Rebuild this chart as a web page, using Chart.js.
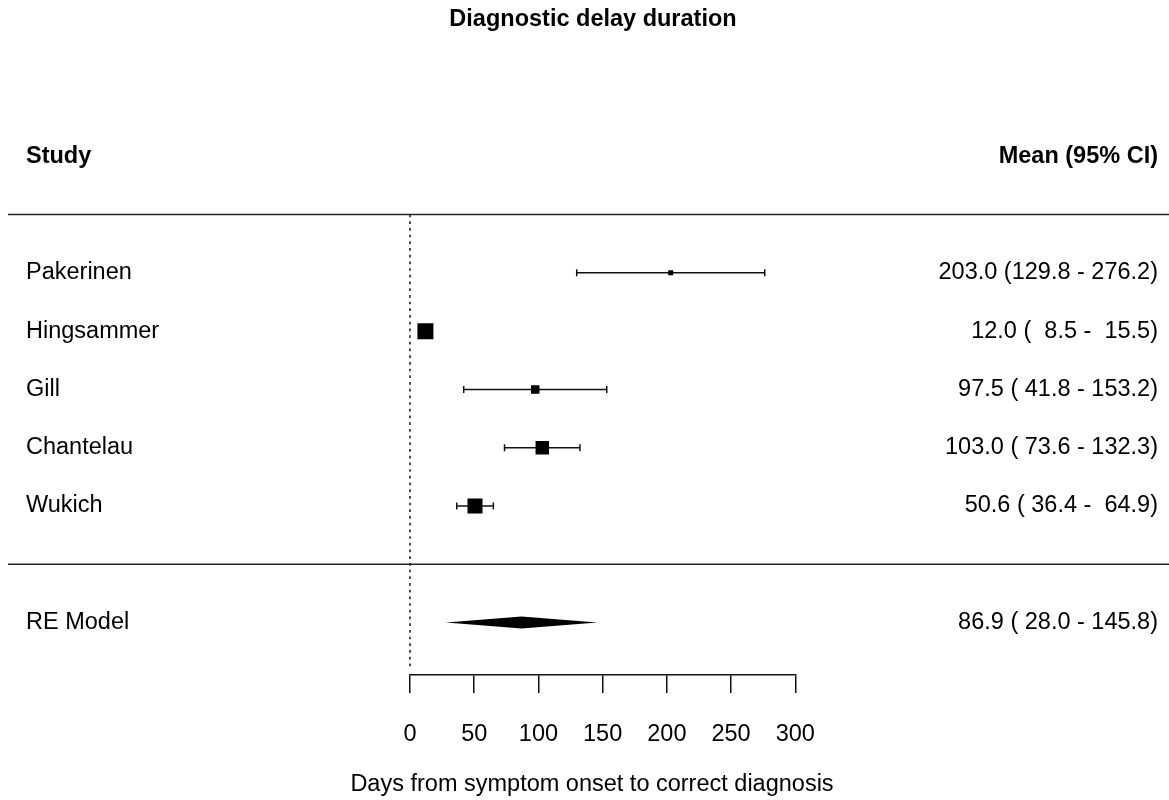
<!DOCTYPE html>
<html>
<head>
<meta charset="utf-8">
<script src="https://cdn.jsdelivr.net/npm/chart.js@4"></script>
<style>
  html, body { margin: 0; padding: 0; background: #fff; }
  #wrap { width: 1169px; height: 800px; }
</style>
</head>
<body>
<div id="wrap"><canvas id="forest"></canvas></div>
<script>
// study data
const studies = ['Pakerinen', 'Hingsammer', 'Gill', 'Chantelau', 'Wukich'];
const means = [203.0, 12.0, 97.5, 103.0, 50.6];
const lower = [129.8, 8.5, 41.8, 73.6, 36.4];
const upper = [276.2, 15.5, 153.2, 132.3, 64.9];
const weights = [16.5, 22.2, 18.3, 20.9, 21.7];

// pooled random-effects estimate
const pooledLabel = 'RE Model';
const pooled = [86.9, 28.0, 145.8]; // estimate, lower, upper

const xTicks = [0, 50, 100, 150, 200, 250, 300];

const chartTitle = 'Diagnostic delay duration';
const xTitle = 'Days from symptom onset to correct diagnosis';

const FONT = '"Liberation Sans", Arial, Helvetica, sans-serif';
const FS = 23.5;

// row numbers, top study highest
const rowOf = i => studies.length + 3 - i;
const headerRow = studies.length + 5;
const topRule = studies.length + 4;
const midRule = 3;
const pooledRow = 2;

const fmt = v => v.toFixed(1).padStart(5, ' ');
const ciText = (m, lo, hi) => m.toFixed(1) + ' (' + fmt(lo) + ' - ' + fmt(hi) + ')';

const wMin = Math.min(...weights), wMax = Math.max(...weights);
const boxRadius = weights.map(w => (5 + 11 * (w - wMin) / (wMax - wMin)) / (2 * Math.SQRT1_2));

const ciSets = studies.map((s, i) => ({
  label: s + ' CI',
  data: [{ x: lower[i], y: rowOf(i) }, { x: upper[i], y: rowOf(i) }],
  showLine: true,
  borderColor: '#111',
  borderWidth: 1.5,
  pointStyle: 'line',
  rotation: 90,
  pointRadius: 3.5,
  pointBorderWidth: 1.5,
  pointBorderColor: '#111',
  order: 2
}));

const boxSet = {
  label: 'Estimates',
  data: studies.map((s, i) => ({ x: means[i], y: rowOf(i) })),
  pointStyle: 'rect',
  pointRadius: boxRadius,
  backgroundColor: '#000',
  borderWidth: 0,
  order: 1
};

const forestDecor = {
  id: 'forestDecor',
  beforeDatasetsDraw(chart) {
    const { ctx, scales: { x, y } } = chart;
    ctx.save();
    // reference line at zero
    ctx.strokeStyle = '#222';
    ctx.lineWidth = 1.6;
    ctx.setLineDash([2.7, 4]);
    ctx.beginPath();
    ctx.moveTo(x.getPixelForValue(0), y.getPixelForValue(topRule));
    ctx.lineTo(x.getPixelForValue(0), y.getPixelForValue(1.24));
    ctx.stroke();
    ctx.setLineDash([]);
    // separators
    ctx.lineWidth = 1.5;
    [topRule, midRule].forEach(r => {
      const py = y.getPixelForValue(r);
      ctx.beginPath();
      ctx.moveTo(8, py);
      ctx.lineTo(chart.width, py);
      ctx.stroke();
    });
    ctx.restore();
  },
  afterDatasetsDraw(chart) {
    const { ctx, scales: { x, y } } = chart;
    ctx.save();
    // pooled diamond
    const py = y.getPixelForValue(pooledRow);
    ctx.fillStyle = '#000';
    ctx.beginPath();
    ctx.moveTo(x.getPixelForValue(pooled[1]), py);
    ctx.lineTo(x.getPixelForValue(pooled[0]), py - 6);
    ctx.lineTo(x.getPixelForValue(pooled[2]), py);
    ctx.lineTo(x.getPixelForValue(pooled[0]), py + 6);
    ctx.closePath();
    ctx.fill();

    ctx.textBaseline = 'middle';
    // titles
    ctx.font = 'bold ' + FS + 'px ' + FONT;
    ctx.textAlign = 'center';
    ctx.fillText(chartTitle, 593, 20);
    ctx.font = FS + 'px ' + FONT;
    ctx.fillText(xTitle, 592, 785);

    // text columns
    const left = 26, right = 1158;
    ctx.font = 'bold ' + FS + 'px ' + FONT;
    ctx.textAlign = 'left';
    ctx.fillText('Study', left, y.getPixelForValue(headerRow));
    ctx.textAlign = 'right';
    ctx.fillText('Mean (95% CI)', right, y.getPixelForValue(headerRow));

    ctx.font = FS + 'px ' + FONT;
    studies.forEach((s, i) => {
      const ry = y.getPixelForValue(rowOf(i));
      ctx.textAlign = 'left';
      ctx.fillText(s, left, ry);
      ctx.textAlign = 'right';
      ctx.fillText(ciText(means[i], lower[i], upper[i]), right, ry);
    });
    ctx.textAlign = 'left';
    ctx.fillText(pooledLabel, left, py);
    ctx.textAlign = 'right';
    ctx.fillText(ciText(pooled[0], pooled[1], pooled[2]), right, py);
    ctx.restore();
  }
};

Chart.defaults.color = '#000';
Chart.defaults.font.family = FONT;
Chart.defaults.font.size = FS;

new Chart(document.getElementById('forest'), {
  type: 'scatter',
  data: { datasets: [...ciSets, boxSet] },
  options: {
    responsive: true,
    maintainAspectRatio: false,
    animation: false,
    events: [],
    layout: { padding: { left: 410, right: 373.7, top: 98, bottom: 23.5 } },
    plugins: {
      legend: { display: false },
      tooltip: { enabled: false },
      title: { display: false }
    },
    scales: {
      x: {
        type: 'linear',
        min: 0,
        max: 300,
        afterBuildTicks: scale => { scale.ticks = xTicks.map(v => ({ value: v })); },
        grid: { drawOnChartArea: false, drawTicks: true, tickLength: 18, color: '#111', lineWidth: 1.5 },
        border: { display: true, color: '#111', width: 1.5 },
        ticks: { padding: 30, font: { size: FS, lineHeight: 1 }, maxRotation: 0 }
      },
      y: {
        type: 'linear',
        display: false,
        min: 1.1,
        max: 11
      }
    }
  },
  plugins: [forestDecor]
});
</script>
</body>
</html>
